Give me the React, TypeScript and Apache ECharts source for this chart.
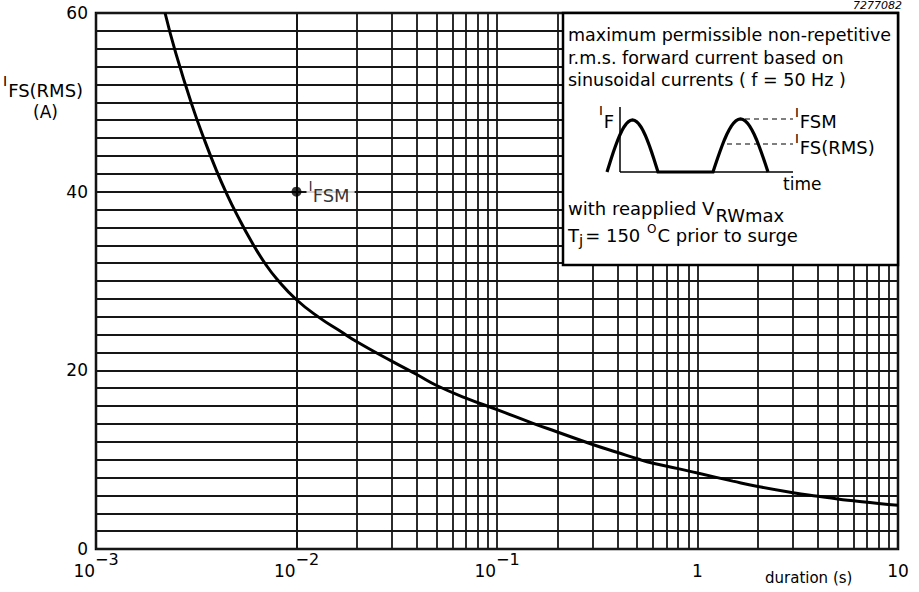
import React, { useEffect, useRef } from "react";
import * as echarts from "echarts";

// ---- data ----
const durations = [
  0.00221, 0.0025, 0.003, 0.0035, 0.004, 0.0045, 0.005, 0.006, 0.007, 0.008,
  0.01, 0.013, 0.0165, 0.02, 0.03, 0.04, 0.05, 0.07, 0.1, 0.15, 0.2, 0.3, 0.4,
  0.5, 0.6, 0.8, 1, 1.5, 2, 3, 4, 5, 6, 8, 10,
];
const currents = [
  60, 55.5, 49.8, 45.6, 42.3, 39.7, 37.6, 34.3, 31.9, 30.2, 27.9, 25.9, 24.4,
  23.2, 21.0, 19.5, 18.3, 16.9, 15.6, 14.1, 13.1, 11.7, 10.8, 10.1, 9.6, 9.0,
  8.5, 7.6, 7.0, 6.3, 5.9, 5.6, 5.4, 5.1, 4.9,
];
const fsmPoint = [0.01, 40];
const decades = [0.001, 0.01, 0.1, 1];
const multiples = [2, 3, 4, 5, 6, 7, 8, 9];
const yLabelValues = [0, 20, 40, 60];
const xLabelText: Record<string, string> = {
  "-3": "{b|10}{s|−3}",
  "-2": "{b|10}{s|−2}",
  "-1": "{b|10}{s|−1}",
  "0": "{b|1}",
  "1": "{b|10}",
};

const FONT = "DejaVu Sans";
const GRID_COLOR = "#161616";
const GRID_W = 1.8;

function halfSine(x0: number, w: number, yBase: number, h: number) {
  const pts: number[][] = [];
  const n = 24;
  for (let i = 0; i <= n; i++) {
    const t = i / n;
    pts.push([x0 + w * t, yBase - h * Math.sin(Math.PI * t)]);
  }
  return pts;
}

let measureCtx: CanvasRenderingContext2D | null = null;
function measure(text: string, size: number) {
  if (!measureCtx) measureCtx = document.createElement("canvas").getContext("2d");
  if (!measureCtx) return text.length * size * 0.6;
  measureCtx.font = `${size}px "${FONT}"`;
  return measureCtx.measureText(text).width;
}

export default function App() {
  const ref = useRef<HTMLDivElement>(null);
  useEffect(() => {
    if (!ref.current) return;
    const chart = echarts.init(ref.current, null, { renderer: "svg" });
    const minorLines: number[] = [];
    decades.forEach((d) => multiples.forEach((m) => minorLines.push(d * m)));

    const txt = (
      x: number,
      y: number,
      text: string,
      size: number,
      extra: any = {}
    ) => ({
      type: "text",
      x,
      y,
      z: 110,
      style: {
        text,
        fill: "#000",
        font: `${size}px "${FONT}"`,
        textAlign: "left",
        textVerticalAlign: "middle",
        ...extra,
      },
    });
    // lay out text pieces side by side; each piece: [text, size, dy, gapAfter]
    const flow = (x: number, y: number, pieces: [string, number, number, number?][]) => {
      const els: any[] = [];
      let cx = x;
      pieces.forEach(([t, size, dy, gap]) => {
        els.push(txt(cx, y + dy, t, size));
        cx += measure(t, size) + (gap ?? 0);
      });
      return els;
    };

    const baseY = 172;
    const hump1 = halfSine(607, 51, baseY, 52);
    const hump2 = halfSine(713, 55, baseY, 53);
    const wave = [...hump1, ...hump2];

    const option: any = {
      animation: false,
      grid: {
        left: 96,
        top: 13,
        right: 21,
        bottom: 43,
        show: true,
        borderColor: "#000",
        borderWidth: 2.5,
      },
      xAxis: {
        type: "log",
        logBase: 10,
        min: 0.001,
        max: 10,
        axisLine: { show: false },
        axisTick: { show: false },
        splitLine: { show: true, lineStyle: { color: GRID_COLOR, width: GRID_W } },
        axisLabel: {
          margin: 2,
          color: "#000",
          formatter: (v: number) => {
            const k = String(Math.round(Math.log10(v)));
            return xLabelText[k] ?? "";
          },
          rich: {
            b: {
              fontFamily: FONT,
              fontSize: 17,
              lineHeight: 28,
              verticalAlign: "bottom",
              color: "#000",
            },
            s: {
              fontFamily: FONT,
              fontSize: 16,
              lineHeight: 18,
              verticalAlign: "top",
              color: "#000",
            },
          },
        },
      },
      yAxis: {
        type: "value",
        min: 0,
        max: 60,
        interval: 2,
        axisLine: { show: false },
        axisTick: { show: false },
        splitLine: { show: true, lineStyle: { color: GRID_COLOR, width: GRID_W } },
        axisLabel: {
          margin: 8,
          color: "#000",
          fontFamily: FONT,
          fontSize: 17,
          formatter: (v: number) =>
            yLabelValues.indexOf(Math.round(v)) >= 0 ? String(Math.round(v)) : "",
        },
      },
      series: [
        {
          type: "line",
          data: durations.map((d, i) => [d, currents[i]]),
          showSymbol: false,
          smooth: 0.5,
          lineStyle: { color: "#000", width: 3 },
          z: 5,
          markLine: {
            silent: true,
            symbol: "none",
            label: { show: false },
            lineStyle: { color: GRID_COLOR, width: GRID_W, type: "solid", opacity: 1 },
            emphasis: { disabled: true },
            data: minorLines.map((v) => ({ xAxis: v })),
            z: 1,
          },
        },
        {
          type: "scatter",
          data: [fsmPoint],
          symbol: "circle",
          symbolSize: 10,
          itemStyle: { color: "#000" },
          z: 6,
          label: {
            show: true,
            position: "right",
            distance: 5,
            formatter: "{i|I}{f|FSM}",
            backgroundColor: "#fff",
            padding: [0, 5, 0, 2],
            rich: {
              i: {
                fontFamily: FONT,
                fontSize: 14,
                lineHeight: 14,
                verticalAlign: "top",
                color: "#000",
              },
              f: {
                fontFamily: FONT,
                fontSize: 18,
                lineHeight: 26,
                verticalAlign: "bottom",
                color: "#000",
              },
            },
          },
        },
      ],
      graphic: [
        // y-axis name
        ...flow(3, 81, [["I", 14, 0, 1], ["FS(RMS)", 18, 9]]),
        txt(33, 112, "(A)", 17),
        // x-axis name
        txt(765, 578, "duration (s)", 15),
        // figure number
        txt(902, 0, "7277082", 11, {
          textAlign: "right",
          textVerticalAlign: "top",
          font: `italic 11px "${FONT}"`,
        }),
        // legend box
        {
          type: "rect",
          z: 100,
          shape: { x: 563, y: 13, width: 335, height: 252 },
          style: { fill: "#fff", stroke: "#000", lineWidth: 2.5 },
        },
        txt(568, 35, "maximum permissible non-repetitive", 17.5),
        txt(568, 58, "r.m.s. forward current based on", 17.5),
        txt(568, 80, "sinusoidal currents ( f = 50 Hz )", 17.5),
        // inset waveform
        ...flow(599, 110, [["I", 13, 0, 1], ["F", 18, 11]]),
        {
          type: "line",
          z: 110,
          shape: { x1: 620, y1: 107, x2: 620, y2: baseY },
          style: { stroke: "#000", lineWidth: 1.5 },
        },
        {
          type: "line",
          z: 110,
          shape: { x1: 620, y1: baseY, x2: 793, y2: baseY },
          style: { stroke: "#000", lineWidth: 1.5 },
        },
        {
          type: "polyline",
          z: 111,
          shape: { points: wave },
          style: { stroke: "#000", lineWidth: 3.2, fill: null },
        },
        {
          type: "line",
          z: 110,
          shape: { x1: 745, y1: 119, x2: 793, y2: 119 },
          style: { stroke: "#000", lineWidth: 1.2, lineDash: [5, 4] },
        },
        {
          type: "line",
          z: 110,
          shape: { x1: 727, y1: 144, x2: 793, y2: 144 },
          style: { stroke: "#000", lineWidth: 1.2, lineDash: [5, 4] },
        },
        ...flow(795, 112, [["I", 13, 0, 1], ["FSM", 18, 9]]),
        ...flow(795, 138, [["I", 13, 0, 1], ["FS(RMS)", 18, 9]]),
        txt(783, 184, "time", 17),
        ...flow(568, 208, [["with reapplied V", 18, 0, 1], ["RWmax", 18, 7]]),
        ...flow(568, 235, [
          ["T", 18, 0],
          ["j", 15, 6, 2],
          ["= 150 ", 18, 0, 1],
          ["O", 12, -6, 1],
          ["C prior to surge", 18, 0],
        ]),
      ],
    };
    chart.setOption(option);
    return () => chart.dispose();
  }, []);
  return (
    <div
      ref={ref}
      style={{
        position: "fixed",
        left: 0,
        top: 0,
        width: 919,
        height: 592,
        background: "#fff",
      }}
    />
  );
}
